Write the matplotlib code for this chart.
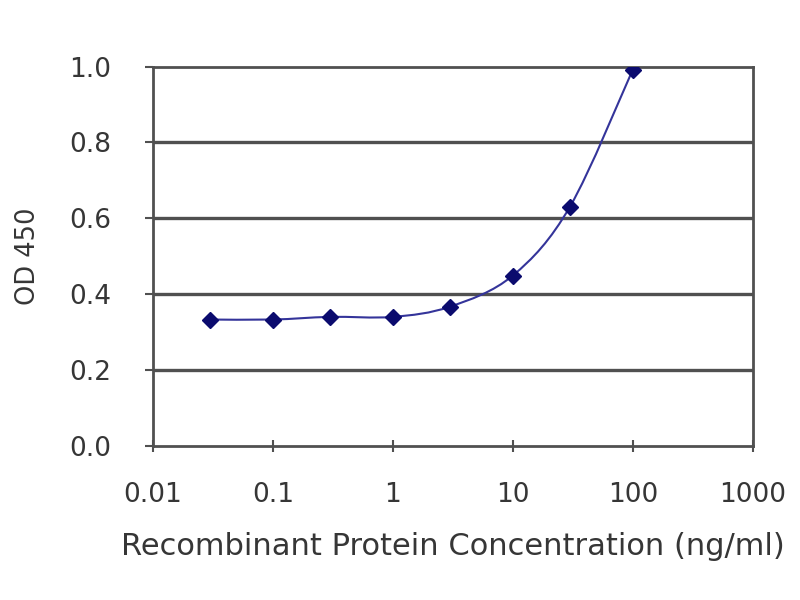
import matplotlib
matplotlib.use("Agg")
import matplotlib.pyplot as plt
from matplotlib.path import Path
from matplotlib.patches import PathPatch
import numpy as np

plt.rcParams['font.family'] = ['DejaVu Sans']

# data
conc = [0.03, 0.1, 0.3, 1, 3, 10, 30, 100]
od450 = [0.333, 0.333, 0.340, 0.340, 0.367, 0.449, 0.631, 0.992]
y_ticks = [0.0, 0.2, 0.4, 0.6, 0.8, 1.0]
x_ticks = [0.01, 0.1, 1, 10, 100, 1000]
x_ticklabels = ['0.01', '0.1', '1', '10', '100', '1000']

navy = '#0b0b6e'
grey_text = '#363636'
grid_grey = '#505050'


def smooth_path(xs, ys):
    # excel-like smoothed line: catmull-rom in log-x space, as cubic bezier
    lx = np.log10(xs)
    y = np.array(ys, dtype=float)
    verts = [(lx[0], y[0])]
    codes = [Path.MOVETO]
    n = len(lx)
    for i in range(n - 1):
        p0 = (lx[max(i - 1, 0)], y[max(i - 1, 0)])
        p1 = (lx[i], y[i])
        p2 = (lx[i + 1], y[i + 1])
        p3 = (lx[min(i + 2, n - 1)], y[min(i + 2, n - 1)])
        c1 = (p1[0] + (p2[0] - p0[0]) / 6, p1[1] + (p2[1] - p0[1]) / 6)
        c2 = (p2[0] - (p3[0] - p1[0]) / 6, p2[1] - (p3[1] - p1[1]) / 6)
        verts += [c1, c2, p2]
        codes += [Path.CURVE4] * 3
    verts = [(10 ** vx, vy) for vx, vy in verts]
    return Path(verts, codes)


fig = plt.figure(figsize=(8, 6), dpi=100)
ax = fig.add_axes([0.191, 0.257, 0.75, 0.632])

ax.set_xscale('log')
ax.set_xlim(0.01, 1000)
ax.set_ylim(0, 1.0)

for yv in y_ticks[1:-1]:
    ax.axhline(yv, color=grid_grey, lw=2.4, zorder=1)

ax.add_patch(PathPatch(smooth_path(conc, od450), facecolor='none',
                       edgecolor='#34349a', lw=1.5, zorder=2))
ax.plot(conc, od450, linestyle='none', marker='D', markersize=8.5,
        color=navy, zorder=3)

ax.set_xticks(x_ticks)
ax.set_xticklabels(x_ticklabels)
ax.xaxis.set_minor_locator(matplotlib.ticker.NullLocator())
ax.set_yticks(y_ticks)
ax.set_yticklabels(['%.1f' % v for v in y_ticks])

for s in ax.spines.values():
    s.set_color(grid_grey)
    s.set_linewidth(2.0)

ax.tick_params(axis='x', direction='inout', length=8, width=1.5,
               color=grid_grey, labelsize=19, labelcolor=grey_text, pad=22)
ax.tick_params(axis='y', direction='out', length=6, width=1.5,
               color=grid_grey, labelsize=19, labelcolor=grey_text, pad=24)

ax.set_xlabel('Recombinant Protein Concentration (ng/ml)', fontsize=22,
              color=grey_text, labelpad=17)
ax.set_ylabel('OD 450', fontsize=18.5, color=grey_text, labelpad=20)

fig.savefig('out.png', dpi=100, facecolor='white')
